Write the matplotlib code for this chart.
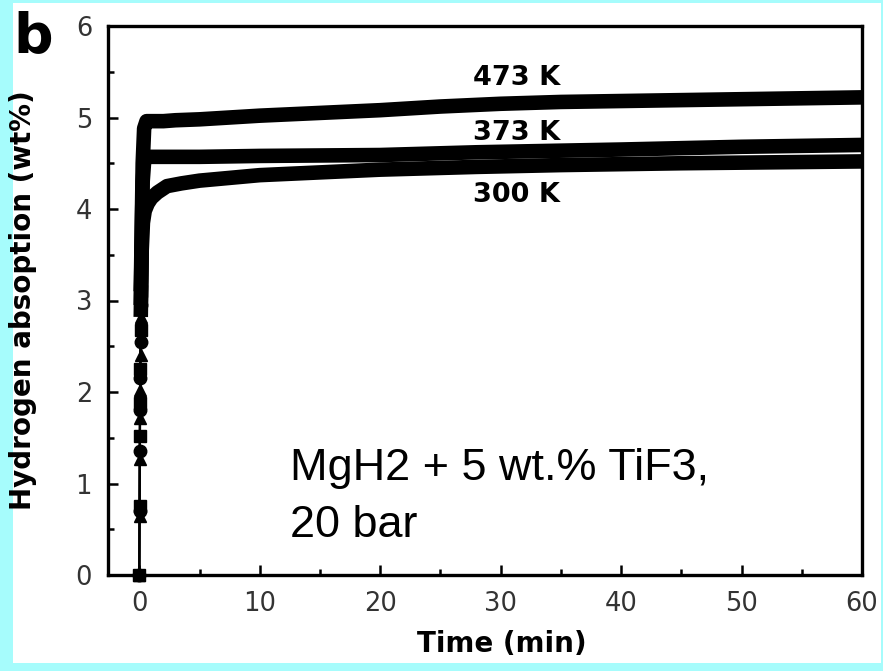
import numpy as np
import matplotlib
matplotlib.use("Agg")
import matplotlib.pyplot as plt
from matplotlib.patches import Rectangle
from matplotlib.ticker import MultipleLocator

# ---- data (time in min, absorption in wt%) ----
labels = ["473 K", "373 K", "300 K"]
markers = ["s", "o", "^"]

# fast initial rise (sparse symbols near t = 0)
rise_t_473 = [0.0, 0.02, 0.04, 0.06, 0.08, 0.10, 0.12]
rise_h_473 = [0.0, 0.75, 1.52, 1.88, 2.25, 2.68, 3.10]
rise_t_373 = [0.0, 0.02, 0.04, 0.06, 0.08, 0.10, 0.12]
rise_h_373 = [0.0, 0.70, 1.35, 1.80, 2.15, 2.55, 2.95]
rise_t_300 = [0.0, 0.02, 0.04, 0.06, 0.08, 0.10, 0.12]
rise_h_300 = [0.0, 0.65, 1.27, 1.72, 2.02, 2.40, 2.82]

# dense part of the curves
t_473 = [0.12, 0.2, 0.28, 0.4, 0.6, 1, 2, 3, 5, 10, 15, 20, 25, 30, 35, 40, 45, 50, 55, 60]
h_473 = [3.10, 3.8, 4.5, 4.88, 4.96, 4.96, 4.96, 4.97, 4.98, 5.02, 5.05, 5.08, 5.12, 5.15,
         5.17, 5.18, 5.19, 5.20, 5.21, 5.22]
t_373 = [0.12, 0.2, 0.28, 0.4, 0.6, 1, 2.5, 5, 10, 20, 28, 40, 50, 60]
h_373 = [2.95, 3.7, 4.3, 4.52, 4.57, 4.57, 4.57, 4.57, 4.58, 4.59, 4.62, 4.65, 4.68, 4.70]
t_300 = [0.12, 0.2, 0.3, 0.45, 0.7, 1.0, 1.5, 2.3, 3.5, 5, 7.5, 10, 15, 20, 28, 35, 45, 60]
h_300 = [2.82, 3.55, 3.85, 3.98, 4.06, 4.12, 4.18, 4.25, 4.28, 4.31, 4.34, 4.37, 4.40, 4.43,
         4.46, 4.48, 4.50, 4.52]

# label positions (x, baseline y)
label_x = [31.3, 31.3, 31.3]
label_y = [5.355, 4.754, 4.077]

rises = [(rise_t_473, rise_h_473), (rise_t_373, rise_h_373), (rise_t_300, rise_h_300)]
curves = [(t_473, h_473), (t_373, h_373), (t_300, h_300)]

fig = plt.figure(figsize=(8.83, 6.71), dpi=100, facecolor="#a6fcfc")
# white panel on the cyan frame
fig.patches.append(Rectangle((13 / 883, 1 - 663 / 671), 868 / 883, 660 / 671,
                             transform=fig.transFigure, facecolor="white",
                             edgecolor="none", zorder=-10))

ax = fig.add_axes([108 / 883, 1 - 575 / 671, 754 / 883, 549 / 671])
ax.set_zorder(1)
ax.set_facecolor("white")

for (rt, rh), (t, h), m in zip(rises, curves, markers):
    ax.plot(np.r_[rt, t], np.r_[rh, h], color="black", lw=1.6, zorder=2)
    ax.plot(rt, rh, linestyle="none", marker=m, ms=9, color="black",
            clip_on=False, zorder=3)
    ax.plot(t, h, color="black", lw=10.5, solid_joinstyle="round",
            solid_capstyle="butt", zorder=3)

for lab, x, y in zip(labels, label_x, label_y):
    ax.text(x, y, lab, ha="center", va="baseline", fontsize=19.5,
            fontweight="bold", family="DejaVu Sans")

ax.text(12.5, 1.04, "MgH2 + 5 wt.% TiF3,", fontsize=32.4, family="Liberation Sans",
        va="baseline", ha="left")
ax.text(12.5, 0.41, "20 bar", fontsize=32.4, family="Liberation Sans",
        va="baseline", ha="left")

ax.set_xlim(-2.6, 60)
ax.set_ylim(0, 6)
ax.xaxis.set_major_locator(MultipleLocator(10))
ax.xaxis.set_minor_locator(MultipleLocator(5))
ax.yaxis.set_major_locator(MultipleLocator(1))
ax.yaxis.set_minor_locator(MultipleLocator(0.5))

for s in ax.spines.values():
    s.set_linewidth(2.4)
ax.tick_params(which="both", direction="in", top=False, right=False, width=1.8,
               labelsize=18.5, labelcolor="#333333", pad=11.5)
ax.tick_params(which="major", length=7.5)
ax.tick_params(which="minor", length=4)

ax.set_xlabel("Time (min)", fontsize=20, fontweight="bold")
ax.set_ylabel("Hydrogen absoption (wt%)", fontsize=20, fontweight="bold")
ax.xaxis.set_label_coords(0.522, -0.10)
ax.yaxis.set_label_coords(-0.094, 0.5)

fig.text(13 / 883, 1 - 52 / 671, "b", fontsize=40, fontweight="bold",
         va="baseline", ha="left")

fig.savefig("out.png", dpi=100, facecolor=fig.get_facecolor())
